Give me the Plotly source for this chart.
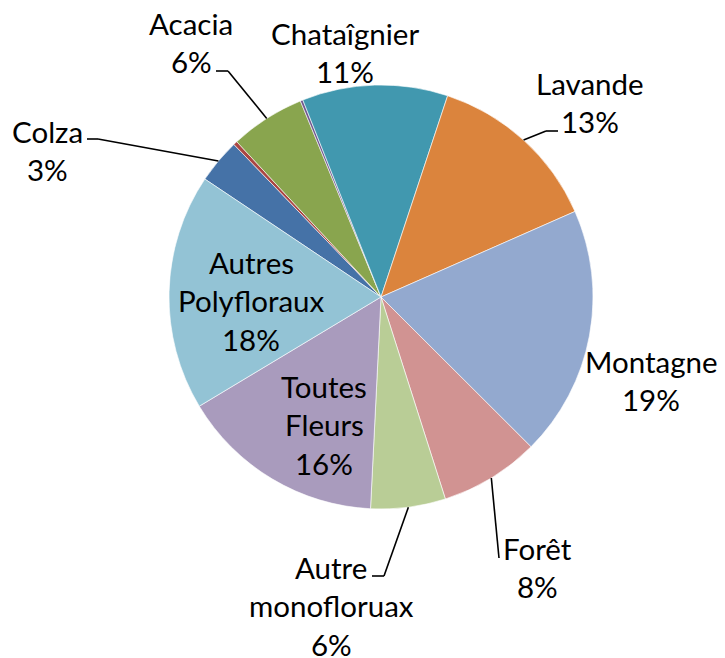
import math
import plotly.graph_objects as go

W, H = 725, 658

# ---- data ----
labels = ["Colza", "Non étiqueté A", "Acacia", "Non étiqueté B", "Chataîgnier",
          "Lavande", "Montagne", "Forêt", "Autre monofloruax", "Toutes Fleurs",
          "Autres Polyfloraux"]
values = [3.4, 0.3, 5.7, 0.2, 11.1, 13.3, 19.1, 7.6, 5.7, 15.6, 18.0]
label_text = {
    "Colza": ["Colza"],
    "Acacia": ["Acacia"],
    "Chataîgnier": ["Chataîgnier"],
    "Lavande": ["Lavande"],
    "Montagne": ["Montagne"],
    "Forêt": ["Forêt"],
    "Autre monofloruax": ["Autre", "monofloruax"],
    "Toutes Fleurs": ["Toutes", "Fleurs"],
    "Autres Polyfloraux": ["Autres", "Polyfloraux"],
}

# ---- style / layout ----
colors = ["#4572A7", "#AA4643", "#89A54E", "#71588F", "#4198AF", "#DB843D",
          "#93A9CF", "#D19392", "#B9CD96", "#A99BBD", "#93C3D5"]
CX, CY, R = 381, 297, 212
ROTATION = 303.8
FONT = "Lato"
FS = 29.5
LINE_STEP = 38.7

# label block positions: (center x, first baseline y)
label_pos = {
    "Colza": (47, 141),
    "Acacia": (191, 33),
    "Chataîgnier": (345, 43),
    "Lavande": (590, 93),
    "Montagne": (651, 371),
    "Forêt": (537, 558),
    "Autre monofloruax": (331, 577),
    "Toutes Fleurs": (324, 396),
    "Autres Polyfloraux": (251, 272),
}
# leader lines: list of pixel points after the slice attachment point
leaders = {
    "Colza": [(98, 139), (87, 139)],
    "Acacia": [(228, 71), (216, 71)],
    "Lavande": [(546, 131), (558, 131)],
    "Forêt": [(499, 558)],
    "Autre monofloruax": [(384, 576), (372, 576)],
}

def px(x):
    return x / W

def py(y):
    return 1 - y / H

fig = go.Figure(go.Pie(
    labels=labels, values=values, sort=False, direction="clockwise",
    rotation=ROTATION, textinfo="none", hoverinfo="label+percent",
    marker=dict(colors=colors, line=dict(color="white", width=0.6)),
    domain=dict(x=[px(CX - R), px(CX + R)], y=[py(CY + R), py(CY - R)]),
))

total = sum(values)
mid_angle = {}
acc = 0.0
for lab, v in zip(labels, values):
    mid_angle[lab] = ROTATION + (acc + v / 2) / total * 360.0
    acc += v

annotations = []
for lab, v in zip(labels, values):
    if lab not in label_text:
        continue
    lines = label_text[lab] + [f"{round(v / total * 100)}%"]
    x0, b0 = label_pos[lab]
    for i, t in enumerate(lines):
        yb = b0 + i * LINE_STEP
        annotations.append(dict(
            x=px(x0), y=py(yb - 0.33 * FS), xref="paper", yref="paper",
            text=t, showarrow=False, xanchor="center", yanchor="middle",
            font=dict(family=FONT, size=FS, color="black")))

shapes = []
for lab, pts in leaders.items():
    a = math.radians(mid_angle[lab])
    start = (CX + R * math.sin(a), CY - R * math.cos(a))
    chain = [start] + pts
    for (xa, ya), (xb, yb) in zip(chain[:-1], chain[1:]):
        shapes.append(dict(type="line", xref="paper", yref="paper",
                           x0=px(xa), y0=py(ya), x1=px(xb), y1=py(yb),
                           line=dict(color="black", width=1.6)))

fig.update_layout(
    width=W, height=H, margin=dict(l=0, r=0, t=0, b=0),
    paper_bgcolor="white", plot_bgcolor="white", showlegend=False,
    annotations=annotations, shapes=shapes,
)
fig.write_html("out.html", config={"displayModeBar": False},
               post_script="document.body.style.margin='0px';document.body.style.overflow='hidden';")
